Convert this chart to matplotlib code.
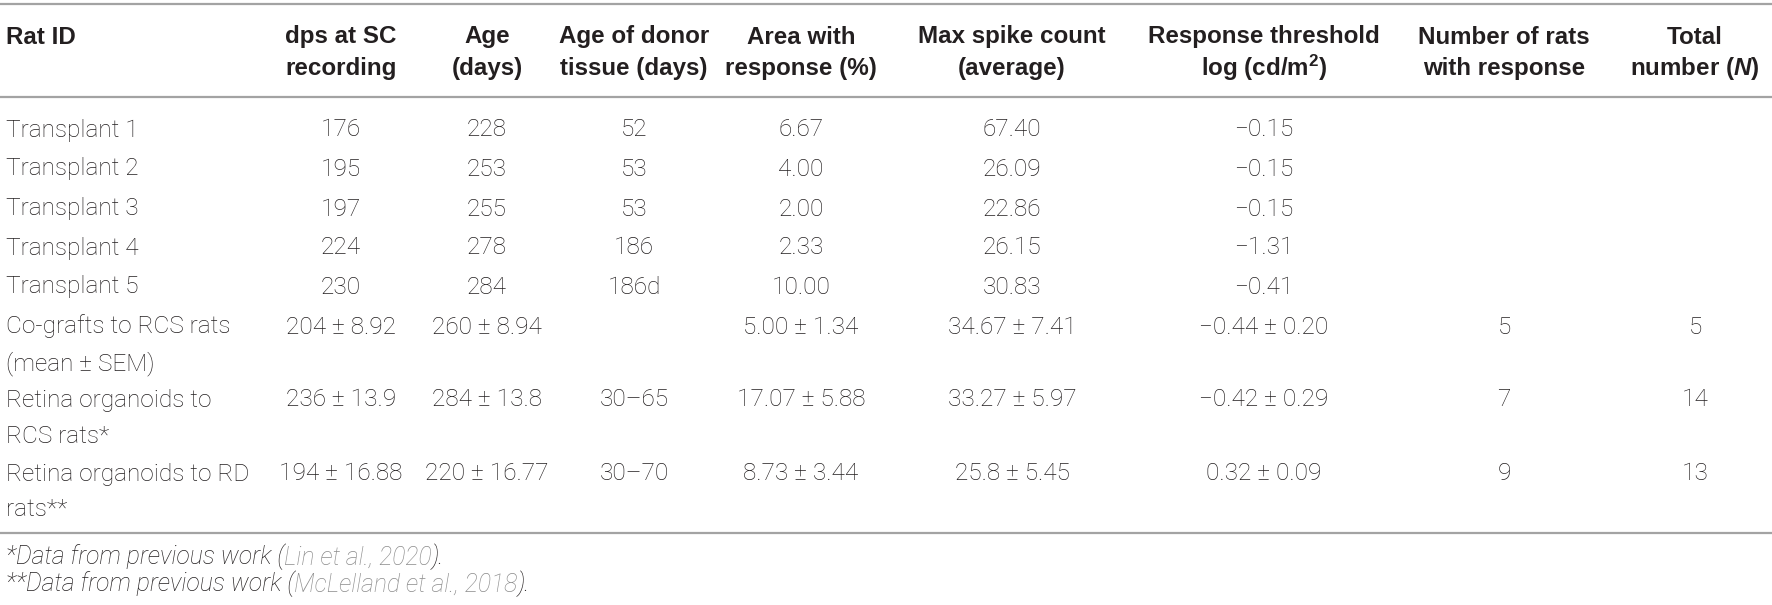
import matplotlib
matplotlib.use('Agg')
import matplotlib.pyplot as plt

# table content
headers = [['Rat ID'], ['dps at SC', 'recording'], ['Age', '(days)'],
           ['Age of donor', 'tissue (days)'], ['Area with', 'response (%)'],
           ['Max spike count', '(average)'], ['Response threshold', 'log (cd/m$^{2}$)'],
           ['Number of rats', 'with response'], ['Total', 'number ($\\it{N}$)']]

row_labels = [['Transplant 1'], ['Transplant 2'], ['Transplant 3'], ['Transplant 4'],
              ['Transplant 5'], ['Co-grafts to RCS rats', '(mean \u00b1 SEM)'],
              ['Retina organoids to', 'RCS rats*'], ['Retina organoids to RD', 'rats**']]

dps = ['176', '195', '197', '224', '230', '204 \u00b1 8.92', '236 \u00b1 13.9', '194 \u00b1 16.88']
age = ['228', '253', '255', '278', '284', '260 \u00b1 8.94', '284 \u00b1 13.8', '220 \u00b1 16.77']
donor_age = ['52', '53', '53', '186', '186d', '', '30\u201365', '30\u201370']
area = ['6.67', '4.00', '2.00', '2.33', '10.00', '5.00 \u00b1 1.34', '17.07 \u00b1 5.88', '8.73 \u00b1 3.44']
spikes = ['67.40', '26.09', '22.86', '26.15', '30.83', '34.67 \u00b1 7.41', '33.27 \u00b1 5.97', '25.8 \u00b1 5.45']
threshold = ['\u22120.15', '\u22120.15', '\u22120.15', '\u22121.31', '\u22120.41',
             '\u22120.44 \u00b1 0.20', '\u22120.42 \u00b1 0.29', '0.32 \u00b1 0.09']
n_response = ['', '', '', '', '', '5', '7', '9']
n_total = ['', '', '', '', '', '5', '14', '13']

footnotes = [('*Data from previous work (', 'Lin et al., 2020', ').'),
             ('**Data from previous work (', 'McLelland et al., 2018', ').')]

columns = [dps, age, donor_age, area, spikes, threshold, n_response, n_total]

# layout (pixels)
W, H = 1772, 605
col_x = [341, 487, 634, 801, 1012, 1264, 1504, 1695]
head_y = [35, 67]
row_y = [[128], [167], [207], [246], [285], [325, 362], [398, 434], [472, 507]]
rules = [4, 97, 533]
foot_y = [557, 584]
half_cap = 8.5

txt = '#231f20'
grey = '#a3a3a3'
link = '#8c8c8c'
body = ['Roboto', 'DejaVu Sans']
head = ['Liberation Sans', 'DejaVu Sans']

plt.rcParams['mathtext.fontset'] = 'custom'
plt.rcParams['mathtext.it'] = 'Liberation Sans:italic:bold'
plt.rcParams['mathtext.rm'] = 'Liberation Sans:bold'

fig = plt.figure(figsize=(W / 100, H / 100), dpi=100)
ax = fig.add_axes([0, 0, 1, 1])
ax.set_xlim(0, W)
ax.set_ylim(H, 0)
ax.axis('off')

for y in rules:
    ax.axhline(y, color=grey, lw=1.6)

# header
for i, lines in enumerate(headers):
    for j, line in enumerate(lines):
        if i == 0:
            ax.text(6, head_y[j] + half_cap, line, ha='left', va='baseline',
                    fontsize=17.4, fontweight='bold', color=txt, family=head)
        else:
            ax.text(col_x[i - 1], head_y[j] + half_cap, line, ha='center', va='baseline',
                    fontsize=17.4, fontweight='bold', color=txt, family=head)

# body
for r, lines in enumerate(row_labels):
    for j, line in enumerate(lines):
        ax.text(6, row_y[r][j] + half_cap, line, ha='left', va='baseline',
                fontsize=17.6, fontweight='light', color=txt, family=body)
    for c, col in enumerate(columns):
        ax.text(col_x[c], row_y[r][0] + half_cap, col[r], ha='center', va='baseline',
                fontsize=17.6, fontweight='light', color=txt, family=body)

# footnotes, citation in lighter grey
fig.canvas.draw()
renderer = fig.canvas.get_renderer()
for k, parts in enumerate(footnotes):
    x = 6
    for p, part in enumerate(parts):
        t = ax.text(x, foot_y[k] + 7.5, part, ha='left', va='baseline', fontsize=17.8,
                    fontstyle='italic', fontweight='light', family=body,
                    color=link if p == 1 else txt)
        bb = t.get_window_extent(renderer)
        x = x + bb.width

fig.savefig('out.png', dpi=100)
